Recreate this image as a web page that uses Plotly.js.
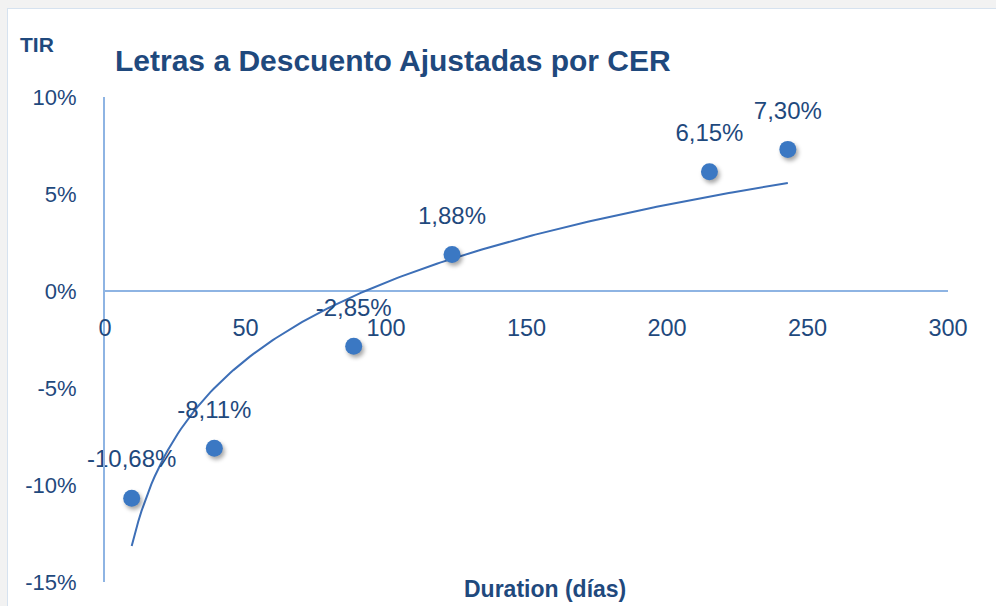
<!DOCTYPE html>
<html>
<head>
<meta charset="utf-8">
<script src="https://cdn.plot.ly/plotly-3.0.1.min.js"></script>
<style>
  html, body { margin: 0; padding: 0; background: #f2f2f2; width: 996px; height: 606px; overflow: hidden; }
  #frame { position: absolute; left: 7px; top: 8px; width: 989px; height: 598px; border-left: 1px solid #d6e2ef; border-top: 1px solid #d6e2ef; background: #fff; }
  #chart { width: 989px; height: 598px; }
  .scatterlayer .trace.pts .points path { filter: drop-shadow(2px 3px 2px rgba(0,0,0,0.35)); }
</style>
</head>
<body>
<div id="frame"><div id="chart"></div></div>
<script>
// Data
const duration = [9.5, 38.9, 88.5, 123.5, 215.1, 243.0];   // días
const tir = [-10.68, -8.11, -2.85, 1.88, 6.15, 7.30];       // %
const labels = ["-10,68%", "-8,11%", "-2,85%", "1,88%", "6,15%", "7,30%"];
const yTickVals = [-15, -10, -5, 0, 5, 10];
const yTickText = ["-15%", "-10%", "-5%", "0%", "5%", "10%"];
const xTickVals = [0, 50, 100, 150, 200, 250, 300];

// Logarithmic trendline (least squares on ln(x)), as in the spreadsheet chart
const lx = duration.map(Math.log);
const n = lx.length;
const mx = lx.reduce((a, b) => a + b, 0) / n;
const my = tir.reduce((a, b) => a + b, 0) / n;
let sxy = 0, sxx = 0;
for (let i = 0; i < n; i++) { sxy += (lx[i] - mx) * (tir[i] - my); sxx += (lx[i] - mx) ** 2; }
const slope = sxy / sxx, icpt = my - slope * mx;
const xmin = Math.min(...duration), xmax = Math.max(...duration);
const trendX = [], trendY = [];
for (let k = 0; k <= 200; k++) {
  const x = xmin + (xmax - xmin) * k / 200;
  trendX.push(x); trendY.push(slope * Math.log(x) + icpt);
}

const txtColor = "#1f497d";
const axisColor = "#8eb4e3";
const fam = "Liberation Sans, Arial, sans-serif";

const traces = [
  { x: trendX, y: trendY, mode: "lines", line: { color: "#3d6fb7", width: 2 }, hoverinfo: "skip", showlegend: false },
  { x: duration, y: tir, mode: "markers", marker: { color: "#3b78c3", size: 17 }, showlegend: false, name: "pts" },
  { x: duration, y: tir, mode: "markers+text", text: labels, textposition: "top center",
    marker: { size: 38, opacity: 0 }, textfont: { family: fam, size: 24, color: txtColor },
    showlegend: false, hoverinfo: "skip", cliponaxis: false }
];

const layout = {
  width: 989, height: 598,
  margin: { l: 97, r: 49, t: 88, b: 25 },
  paper_bgcolor: "#ffffff", plot_bgcolor: "#ffffff",
  showlegend: false,
  title: { text: "<b>Letras a Descuento Ajustadas por CER</b>", xref: "container", yref: "container",
    x: 107 / 989, xanchor: "left", y: 1 - 51 / 598, yanchor: "middle",
    font: { family: fam, size: 30, color: txtColor } },
  xaxis: {
    range: [0, 300], tickvals: xTickVals, ticktext: xTickVals.map(String),
    anchor: "free", position: 0.6, showline: false, showgrid: false, zeroline: false,
    ticks: "outside", ticklen: 16, tickcolor: "rgba(0,0,0,0)",
    tickfont: { family: fam, size: 23.5, color: txtColor }
  },
  yaxis: {
    range: [-15, 10], tickvals: yTickVals, ticktext: yTickText,
    showline: true, linecolor: axisColor, linewidth: 2,
    showgrid: false, zeroline: true, zerolinecolor: axisColor, zerolinewidth: 2,
    ticks: "outside", ticklen: 22, tickcolor: "rgba(0,0,0,0)",
    tickfont: { family: fam, size: 22, color: txtColor }
  },
  annotations: [
    { text: "<b>TIR</b>", xref: "paper", yref: "paper", x: -68 / 843, y: 1 + 52 / 485, xanchor: "center", yanchor: "middle",
      showarrow: false, font: { family: fam, size: 21, color: txtColor } },
    { text: "<b>Duration (días)</b>", xref: "paper", yref: "paper", x: (545 - 105) / 843, y: -(590 - 583) / 485, xanchor: "center", yanchor: "middle",
      showarrow: false, font: { family: fam, size: 23, color: txtColor } }
  ]
};

Plotly.newPlot("chart", traces, layout, { displayModeBar: false, staticPlot: true }).then(() => {
  const tr = document.querySelectorAll(".scatterlayer .trace");
  if (tr[1]) tr[1].classList.add("pts");
});
</script>
</body>
</html>
